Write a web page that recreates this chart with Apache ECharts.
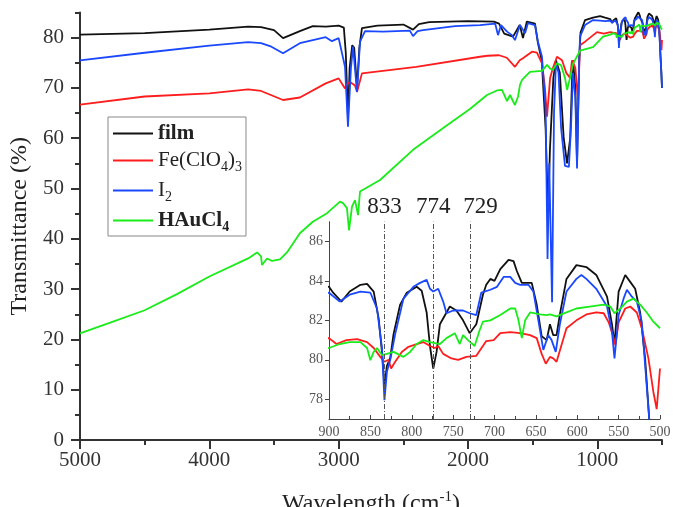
<!DOCTYPE html>
<html>
<head>
<meta charset="utf-8">
<script src="https://cdn.jsdelivr.net/npm/echarts@6.0.0/dist/echarts.min.js"></script>
<style>
  html, body { margin: 0; padding: 0; background: #fff; }
  #chart { width: 673px; height: 507px; }
</style>
</head>
<body>
<div id="chart"></div>
<script>
// [wavenumber (cm-1), transmittance (%)]
const filmData = [
  [5000, 80.6], [4500, 80.9], [4000, 81.6], [3700, 82.2], [3600, 82.1], [3500, 81.5], [3430, 79.9],
  [3300, 81.3], [3200, 82.3], [3100, 82.2], [3000, 82.4], [2960, 82.0], [2945, 77], [2928, 64],
  [2915, 74], [2895, 78.5], [2880, 78], [2858, 70], [2840, 78], [2820, 81.9], [2700, 82.4],
  [2500, 82.6], [2425, 81.6], [2380, 82.7], [2300, 83.1], [2000, 83.3], [1800, 83.2], [1760, 82.8],
  [1720, 80.8], [1652, 80.2], [1600, 82.5], [1575, 79.9], [1545, 83.2], [1482, 82.8], [1460, 79],
  [1430, 75.5], [1400, 62], [1381, 45], [1366, 58], [1340, 72], [1320, 75.5], [1290, 73], [1260, 60],
  [1234, 55], [1210, 60], [1195, 72], [1188, 75.5], [1170, 70], [1157, 55], [1140, 76], [1130, 81],
  [1095, 83.5], [1033, 84], [979, 84.3], [940, 84], [900, 83.7], [895, 83.4], [885, 82.95],
  [875, 83.46], [862, 83.8], [854, 83.85], [846, 83.46], [840, 82.1], [836, 80.4], [833, 78.7],
  [830, 79.7], [826, 80.1], [822, 81.3], [814, 82.8], [806, 83.4], [794, 83.7], [788, 83.5],
  [782, 82.4], [778, 80.7], [774, 79.55], [770, 80.4], [766, 81.8], [758, 82.4], [754, 82.7],
  [746, 82.5], [738, 82.0], [730, 81.35], [722, 81.8], [714, 83.3], [710, 83.8], [705, 84.1],
  [700, 84.0], [693, 84.6], [683, 85.07], [677, 85.0], [673, 84.5], [667, 83.9], [655, 83.9],
  [649, 82.8], [643, 81.2], [637, 81.0], [633, 81.8], [629, 81.25], [625, 81.25], [621, 82.3],
  [613, 84.1], [601, 84.8], [589, 84.7], [577, 84.3], [564, 83.2], [558, 81.8], [555, 80.8],
  [550, 83.46], [542, 84.3], [536, 83.95], [530, 83.6], [524, 82.4], [518, 80.07], [513, 77.0],
  [505, 73], [500, 70]
];

const feData = [
  [5000, 66.7], [4500, 68.3], [4000, 68.9], [3700, 69.7], [3600, 69.4], [3430, 67.6], [3300, 68.1],
  [3100, 70.9], [3000, 71.9], [2951, 69.9], [2935, 70.8], [2912, 71.2], [2874, 70.5], [2858, 69.2],
  [2820, 72.9], [2400, 74.2], [1907, 76.2], [1850, 76.4], [1760, 76.5], [1700, 76], [1637, 74.2],
  [1600, 75.5], [1575, 75.9], [1505, 77.2], [1467, 77.0], [1428, 74.9], [1405, 70], [1389, 64.3],
  [1365, 72], [1343, 74], [1312, 76.2], [1273, 75.5], [1240, 73], [1211, 72], [1196, 75.5],
  [1170, 74], [1149, 67.6], [1134, 78.5], [1095, 79.2], [1003, 81.1], [950, 80.8], [900, 81.1],
  [891, 80.8], [879, 81.0], [866, 81.05], [854, 80.9], [846, 80.6], [838, 80.15], [833, 79.9],
  [828, 80.0], [825, 79.56], [820, 79.9], [812, 80.4], [804, 80.66], [794, 80.8], [786, 80.9],
  [778, 80.7], [772, 80.6], [768, 80.7], [762, 80.3], [752, 80.07], [744, 80.0], [734, 80.15],
  [722, 80.2], [714, 80.7], [710, 80.95], [701, 81.0], [693, 81.35], [681, 81.4], [669, 81.35],
  [657, 81.25], [649, 81.1], [643, 80.3], [638, 79.8], [633, 80.15], [629, 80.07], [625, 79.9],
  [619, 80.75], [613, 81.6], [601, 82.0], [589, 82.3], [577, 82.4], [568, 82.36], [562, 81.9],
  [557, 81.25], [554, 80.75], [550, 81.9], [542, 82.6], [536, 82.7], [528, 82.4], [522, 81.6],
  [514, 80.07], [508, 78.37], [504, 77.5], [500, 79.56]
];

const iodineData = [
  [5000, 75.5], [4500, 77.0], [4000, 78.4], [3700, 79.1], [3600, 78.9], [3520, 78.2], [3430, 76.9],
  [3300, 78.9], [3100, 80.1], [3052, 79.3], [3000, 79.9], [2990, 80.2], [2951, 74.2], [2928, 62.3],
  [2905, 74], [2889, 78.2], [2874, 78.0], [2858, 69.2], [2835, 79.2], [2796, 81.3], [2657, 81.2],
  [2450, 81.4], [2425, 80.3], [2390, 81.3], [2348, 81.5], [2100, 82.3], [1907, 82.5], [1790, 82.8],
  [1768, 80.5], [1745, 82.5], [1698, 81.2], [1660, 80.5], [1637, 79.5], [1598, 82.5], [1559, 80.9],
  [1536, 82.9], [1482, 82.5], [1459, 79.2], [1428, 76.2], [1400, 66], [1385, 36], [1372, 55],
  [1350, 27.4], [1335, 65], [1320, 75], [1300, 73], [1280, 62], [1250, 54.5], [1220, 54.3],
  [1204, 62], [1188, 73], [1170, 68], [1157, 54], [1140, 75], [1134, 80.2], [1095, 82.5],
  [1033, 83.5], [979, 83.4], [940, 83.3], [900, 83.4], [887, 82.95], [875, 83.3], [862, 83.46],
  [850, 83.4], [842, 82.6], [836, 80.6], [833, 77.95], [830, 79.4], [826, 80.0], [820, 81.3],
  [810, 83.1], [798, 83.7], [790, 83.9], [782, 84.05], [778, 83.6], [774, 83.46], [768, 83.6],
  [762, 82.95], [758, 82.36], [750, 82.5], [738, 82.5], [730, 82.36], [722, 82.27], [716, 83.4],
  [705, 83.55], [697, 83.7], [689, 84.2], [681, 84.2], [675, 83.9], [669, 83.8], [659, 83.8],
  [653, 83.46], [647, 82.0], [641, 80.5], [635, 81.25], [631, 81.0], [626, 80.4], [621, 81.8],
  [613, 83.46], [601, 84.1], [595, 84.3], [589, 84.1], [577, 83.6], [564, 82.7], [558, 81.4],
  [555, 80.07], [550, 82.27], [544, 83.1], [540, 83.55], [534, 83.2], [528, 82.95], [522, 81.93],
  [517, 79.2], [513, 77.0], [505, 73], [500, 70]
];

const goldData = [
  [5000, 21.2], [4750, 23.5], [4500, 25.8], [4250, 29], [4000, 32.5], [3700, 36.1], [3631, 37.3],
  [3600, 36.5], [3593, 34.8], [3554, 36.1], [3515, 35.6], [3454, 35.9], [3400, 37.3], [3300, 41.1],
  [3200, 43.4], [3090, 45.1], [2990, 47.4], [2966, 47.1], [2936, 46.1], [2920, 41.7], [2897, 46.4],
  [2874, 47.7], [2850, 44.7], [2835, 49.4], [2680, 51.7], [2425, 57.7], [2162, 62.6], [1985, 65.8],
  [1853, 68.6], [1776, 69.5], [1737, 69.6], [1698, 67.4], [1675, 68.6], [1637, 66.6], [1613, 68.3],
  [1598, 70.6], [1582, 71.6], [1521, 73.2], [1428, 73.4], [1389, 74.6], [1366, 73.9], [1343, 73.6],
  [1312, 74.9], [1280, 74.5], [1250, 72], [1234, 69.6], [1211, 72], [1188, 74.8], [1134, 77.4],
  [1033, 78.1], [956, 80.2], [900, 80.6], [887, 80.8], [875, 80.9], [862, 80.9], [854, 80.6],
  [850, 79.98], [846, 80.4], [842, 80.6], [836, 80.24], [830, 80.3], [822, 80.4], [810, 80.15],
  [802, 80.4], [794, 80.8], [786, 81.0], [778, 80.9], [766, 80.8], [758, 81.1], [748, 81.35],
  [742, 80.8], [738, 81.25], [732, 81.0], [724, 80.7], [718, 81.5], [714, 81.93], [705, 82.0],
  [693, 82.27], [681, 82.6], [675, 82.6], [671, 82.0], [667, 81.1], [663, 82.0], [657, 82.4],
  [645, 82.3], [637, 82.27], [633, 82.3], [625, 82.2], [613, 82.4], [601, 82.6], [585, 82.7],
  [568, 82.8], [560, 82.7], [555, 82.36], [548, 82.6], [540, 82.95], [532, 83.1], [524, 82.8],
  [516, 82.4], [508, 81.93], [500, 81.6]
];

const seriesNames = ['film', 'Fe(ClO₄)₃', 'I₂', 'HAuCl₄'];
const seriesData = [filmData, feData, iodineData, goldData];

const mainXTicks = [5000, 4000, 3000, 2000, 1000];
const mainXMinorTicks = [4500, 3500, 2500, 1500, 500];
const mainYTicks = [0, 10, 20, 30, 40, 50, 60, 70, 80];
const mainYMinorTicks = [5, 15, 25, 35, 45, 55, 65, 75, 85];
const insetYTicks = [78, 80, 82, 84, 86];
const peakMarks = [833, 774, 729];

const chartInit = () => {
  const chartEl = document.getElementById('chart');
  const chart = echarts.init(chartEl);
  const font = "'Liberation Serif', 'DejaVu Serif', serif";
  const colors = ['#111111', '#ff1c1c', '#1a48ff', '#19ec19'];
  const axisColor = '#333';

  const legendLabels = {
    'film': '{b|film}',
    'Fe(ClO₄)₃': '{n|Fe(ClO}{s|4}{n|)}{s|3}',
    'I₂': '{n|I}{s|2}',
    'HAuCl₄': '{b|HAuCl}{sb|4}'
  };

  const mainSeries = seriesNames.map((name, i) => ({
    name,
    type: 'line',
    xAxisIndex: 0,
    yAxisIndex: 0,
    data: seriesData[i],
    showSymbol: false,
    symbol: 'none',
    lineStyle: { color: colors[i], width: 1.8 },
    itemStyle: { color: colors[i] }
  }));

  const insetSeries = seriesNames.map((name, i) => ({
    name,
    type: 'line',
    xAxisIndex: 2,
    yAxisIndex: 2,
    data: seriesData[i],
    showSymbol: false,
    symbol: 'none',
    clip: true,
    lineStyle: { color: colors[i], width: 1.8 },
    itemStyle: { color: colors[i] }
  }));

  insetSeries[0].markLine = {
    silent: true,
    symbol: ['none', 'none'],
    lineStyle: { type: [5, 2, 1, 2], color: '#555', width: 1 },
    label: {
      position: 'end',
      formatter: '{c}',
      fontFamily: font,
      fontSize: 23,
      color: '#222',
      distance: 3
    },
    data: peakMarks.map(v => ({
      xAxis: v,
      label: { padding: [0, 0, 0, v === 729 ? 20 : 0] }
    }))
  };

  const option = {
    animation: false,
    backgroundColor: '#fff',
    textStyle: { fontFamily: font },
    legend: {
      data: seriesNames,
      orient: 'vertical',
      left: 108,
      top: 117,
      padding: [6, 4, 2, 5],
      itemGap: 3,
      itemWidth: 40,
      itemHeight: 14,
      borderColor: '#888',
      borderWidth: 1,
      icon: 'path://M0,6 L40,6 L40,8 L0,8 Z',
      formatter: name => legendLabels[name],
      textStyle: {
        fontFamily: font,
        color: '#222',
        rich: {
          n: { fontSize: 21, lineHeight: 24, fontFamily: font, color: '#222' },
          b: { fontSize: 21, lineHeight: 24, fontWeight: 'bold', fontFamily: font, color: '#222' },
          s: { fontSize: 14, lineHeight: 13, padding: [13, 0, 0, 0], fontFamily: font, color: '#222' },
          sb: { fontSize: 14, lineHeight: 13, padding: [13, 0, 0, 0], fontWeight: 'bold', fontFamily: font, color: '#222' }
        }
      }
    },
    grid: [
      { left: 80, right: 11, top: 12.5, bottom: 67, outerBoundsMode: 'none', containLabel: false },
      { left: 329, right: 13, top: 221.7, bottom: 88, outerBoundsMode: 'none', containLabel: false }
    ],
    xAxis: [
      {
        gridIndex: 0,
        type: 'value',
        min: 500,
        max: 5000,
        inverse: true,
        name: 'Wavelength (cm{sup|-1})',
        nameLocation: 'middle',
        nameGap: 50,
        nameTextStyle: {
          fontFamily: font,
          fontSize: 24,
          color: '#222',
          rich: { sup: { fontSize: 15, padding: [0, 0, 12, 0], fontFamily: font, color: '#222' } }
        },
        axisLine: { lineStyle: { color: axisColor, width: 2 } },
        axisTick: { customValues: mainXTicks, length: 9, lineStyle: { color: axisColor, width: 2 } },
        axisLabel: {
          customValues: mainXTicks,
          formatter: v => String(v),
          margin: 10,
          fontSize: 21,
          fontFamily: font,
          color: '#333'
        },
        splitLine: { show: false }
      },
      {
        gridIndex: 0,
        type: 'value',
        min: 500,
        max: 5000,
        inverse: true,
        position: 'bottom',
        offset: 0,
        axisLine: { show: false },
        axisTick: { customValues: mainXMinorTicks, length: 5, lineStyle: { color: axisColor, width: 2 } },
        axisLabel: { show: false },
        splitLine: { show: false }
      },
      {
        gridIndex: 1,
        type: 'value',
        min: 500,
        max: 900,
        interval: 50,
        inverse: true,
        axisLine: { lineStyle: { color: '#444', width: 1 } },
        axisTick: { inside: true, length: 4, lineStyle: { color: '#444' } },
        minorTick: { show: true, splitNumber: 2, length: 3, lineStyle: { color: '#444' } },
        axisLabel: { margin: 6, fontSize: 14, fontFamily: font, color: '#555' },
        splitLine: { show: false }
      }
    ],
    yAxis: [
      {
        gridIndex: 0,
        type: 'value',
        min: 0,
        max: 85,
        name: 'Transmittance (%)',
        nameLocation: 'middle',
        nameGap: 46,
        nameTextStyle: { fontFamily: font, fontSize: 24, color: '#222' },
        axisLine: { show: true, lineStyle: { color: axisColor, width: 2 } },
        axisTick: { show: true, customValues: mainYTicks, length: 9, lineStyle: { color: axisColor, width: 2 } },
        axisLabel: { customValues: mainYTicks, margin: 16, fontSize: 21, fontFamily: font, color: '#333' },
        splitLine: { show: false }
      },
      {
        gridIndex: 0,
        type: 'value',
        min: 0,
        max: 85,
        position: 'left',
        offset: 0,
        axisLine: { show: false },
        axisTick: { show: true, customValues: mainYMinorTicks, length: 5, lineStyle: { color: axisColor, width: 2 } },
        axisLabel: { show: false },
        splitLine: { show: false }
      },
      {
        gridIndex: 1,
        type: 'value',
        min: 77,
        max: 87,
        axisLine: { show: true, lineStyle: { color: '#444', width: 1 } },
        axisTick: { show: true, customValues: insetYTicks, length: 4, lineStyle: { color: '#444' } },
        axisLabel: { customValues: insetYTicks, margin: 6, fontSize: 14, fontFamily: font, color: '#555' },
        splitLine: { show: false }
      }
    ],
    series: [...mainSeries, ...insetSeries]
  };

  chart.setOption(option);
};

chartInit();
</script>
</body>
</html>
